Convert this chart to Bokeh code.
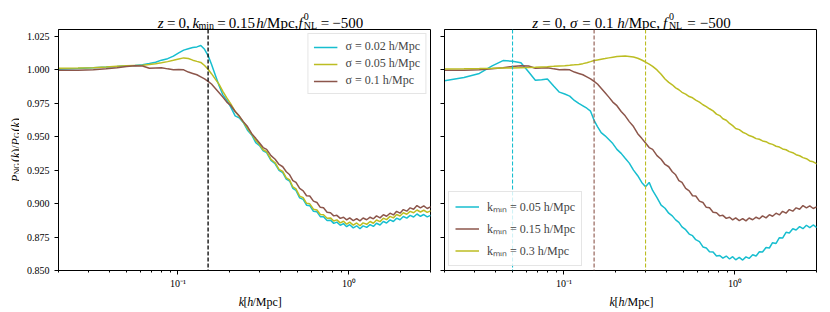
import math
from bokeh.plotting import figure
from bokeh.layouts import row, column
from bokeh.models import (Span, Label, Legend, LegendItem, FixedTicker,
                          PrintfTickFormatter, Range1d)
from bokeh.embed import file_html
from bokeh.resources import INLINE

# ---------------- data ----------------
k = [0.020, 0.026, 0.032, 0.038, 0.044, 0.050, 0.056, 0.062, 0.068, 0.074,
     0.080, 0.087, 0.094, 0.101, 0.108, 0.115, 0.122, 0.129, 0.136, 0.143,
     0.150, 0.157, 0.165, 0.174, 0.183, 0.193, 0.204, 0.216, 0.228, 0.241,
     0.255, 0.270, 0.285, 0.300, 0.315, 0.33, 0.35, 0.37, 0.39, 0.41,
     0.43, 0.45, 0.47, 0.49, 0.515, 0.54, 0.565, 0.59, 0.62, 0.65,
     0.68, 0.71, 0.745, 0.78, 0.815, 0.85, 0.89, 0.93, 0.97, 1.01,
     1.06, 1.11, 1.16, 1.21, 1.27, 1.33, 1.39, 1.45, 1.52, 1.59,
     1.66, 1.74, 1.82, 1.90, 1.99, 2.08, 2.18, 2.28, 2.39, 2.50,
     2.62, 2.74, 2.87, 3.00, 3.10]

# left panel: k_min = 0.15 h/Mpc, varying sigma
ratio_sigma_002 = [
    1.0004, 1.0009, 1.0014, 1.0019, 1.0024, 1.0029, 1.0031, 1.0036, 1.0046, 1.0056,
    1.0071, 1.0082, 1.0101, 1.0126, 1.0146, 1.0156, 1.0165, 1.0170, 1.0180, 1.0152,
    1.0105, 1.0040, 0.9962, 0.9880, 0.9812, 0.9772, 0.9718, 0.9655, 0.9640, 0.9606,
    0.9548, 0.9512, 0.9455, 0.9433, 0.9394, 0.9381, 0.9322, 0.9297, 0.9248, 0.9231,
    0.9183, 0.9168, 0.9113, 0.9098, 0.9042, 0.9031, 0.8988, 0.8984, 0.8942, 0.8938,
    0.8902, 0.8901, 0.8873, 0.8876, 0.8852, 0.8861, 0.8838, 0.8850, 0.8827, 0.8842,
    0.8818, 0.8834, 0.8812, 0.8833, 0.8822, 0.8843, 0.8829, 0.8853, 0.8840, 0.8866,
    0.8855, 0.8878, 0.8866, 0.8891, 0.8879, 0.8903, 0.8891, 0.8912, 0.8900, 0.8922,
    0.8905, 0.8918, 0.8901, 0.8912, 0.8898]
ratio_sigma_005 = [
    1.0010, 1.0012, 1.0015, 1.0020, 1.0025, 1.0029, 1.0031, 1.0033, 1.0038, 1.0045,
    1.0052, 1.0060, 1.0070, 1.0080, 1.0088, 1.0083, 1.0071, 1.0062, 1.0054, 1.0031,
    1.0003, 0.9970, 0.9931, 0.9890, 0.9838, 0.9789, 0.9742, 0.9688, 0.9652, 0.9608,
    0.9562, 0.9518, 0.9472, 0.9441, 0.9402, 0.9388, 0.9330, 0.9305, 0.9255, 0.9240,
    0.9192, 0.9176, 0.9124, 0.9109, 0.9055, 0.9044, 0.9002, 0.8998, 0.8958, 0.8952,
    0.8918, 0.8916, 0.8890, 0.8893, 0.8870, 0.8878, 0.8856, 0.8868, 0.8846, 0.8861,
    0.8839, 0.8855, 0.8834, 0.8856, 0.8845, 0.8866, 0.8853, 0.8877, 0.8865, 0.8891,
    0.8880, 0.8904, 0.8893, 0.8918, 0.8907, 0.8931, 0.8920, 0.8942, 0.8931, 0.8952,
    0.8937, 0.8950, 0.8934, 0.8945, 0.8932]
# sigma = 0.1 h/Mpc, k_min = 0.15 h/Mpc (in both panels)
ratio_sigma_01_kmin_015 = [
    0.9995, 0.9996, 0.9999, 1.0007, 1.0015, 1.0024, 1.0030, 1.0028, 1.0011, 1.0013,
    1.0015, 1.0006, 1.0000, 1.0001, 0.9999, 0.9982, 0.9972, 0.9962, 0.9946, 0.9931,
    0.9913, 0.9893, 0.9862, 0.9828, 0.9795, 0.9758, 0.9731, 0.9688, 0.9655, 0.9612,
    0.9575, 0.9522, 0.9487, 0.9452, 0.9418, 0.9405, 0.9358, 0.9331, 0.9292, 0.9275,
    0.9238, 0.9215, 0.9172, 0.9158, 0.9113, 0.9095, 0.9058, 0.9056, 0.9018, 0.9008,
    0.8972, 0.8968, 0.8935, 0.8931, 0.8908, 0.8912, 0.8889, 0.8898, 0.8878, 0.8893,
    0.8872, 0.8888, 0.8871, 0.8892, 0.8879, 0.8898, 0.8886, 0.8908, 0.8893, 0.8917,
    0.8905, 0.8928, 0.8915, 0.8942, 0.8928, 0.8955, 0.8943, 0.8968, 0.8958, 0.8985,
    0.8968, 0.8982, 0.8963, 0.8975, 0.8962]
# right panel: sigma = 0.1 h/Mpc, varying k_min
ratio_kmin_005 = [
    0.9918, 0.9942, 0.9972, 1.0028, 1.0068, 1.0063, 1.0052, 0.9985, 0.9921, 0.9925,
    0.9931, 0.9878, 0.9832, 0.9818, 0.9802, 0.9770, 0.9748, 0.9730, 0.9712, 0.9690,
    0.9622, 0.9575, 0.9530, 0.9506, 0.9478, 0.9448, 0.9405, 0.9375, 0.9338, 0.9302,
    0.9250, 0.9208, 0.9158, 0.9126, 0.9158, 0.9098, 0.9045, 0.8988, 0.8965, 0.8928,
    0.8908, 0.8878, 0.8859, 0.8826, 0.8805, 0.8772, 0.8760, 0.8730, 0.8716, 0.8676,
    0.8668, 0.8640, 0.8638, 0.8608, 0.8612, 0.8592, 0.8608, 0.8586, 0.8603, 0.8580,
    0.8598, 0.8578, 0.8602, 0.8590, 0.8618, 0.8608, 0.8640, 0.8638, 0.8672, 0.8668,
    0.8708, 0.8702, 0.8745, 0.8742, 0.8785, 0.8780, 0.8812, 0.8802, 0.8828, 0.8812,
    0.8838, 0.8820, 0.8840, 0.8822, 0.8838]
ratio_kmin_03 = [
    1.0005, 1.0006, 1.0008, 1.0010, 1.0012, 1.0013, 1.0015, 1.0016, 1.0018, 1.0020,
    1.0022, 1.0025, 1.0028, 1.0030, 1.0033, 1.0036, 1.0039, 1.0045, 1.0052, 1.0060,
    1.0068, 1.0073, 1.0078, 1.0083, 1.0088, 1.0093, 1.0098, 1.0101, 1.0102, 1.0099,
    1.0094, 1.0085, 1.0072, 1.0057, 1.0042, 1.0025, 0.9998, 0.9965, 0.9930, 0.9905,
    0.9887, 0.9864, 0.9850, 0.9831, 0.9817, 0.9799, 0.9790, 0.9773, 0.9757, 0.9738,
    0.9724, 0.9708, 0.9692, 0.9668, 0.9657, 0.9633, 0.9622, 0.9598, 0.9582, 0.9561,
    0.9552, 0.9533, 0.9522, 0.9508, 0.9499, 0.9485, 0.9480, 0.9468, 0.9462, 0.9448,
    0.9442, 0.9428, 0.9422, 0.9408, 0.9402, 0.9388, 0.9380, 0.9365, 0.9357, 0.9343,
    0.9335, 0.9318, 0.9312, 0.9298, 0.9296]

kmin_left = 0.15
kmin_values = [0.05, 0.15, 0.3]

sigma_labels = ["σ = 0.02 h/Mpc", "σ = 0.05 h/Mpc", "σ = 0.1 h/Mpc"]
kmin_labels = ["kₘᵢₙ = 0.05 h/Mpc", "kₘᵢₙ = 0.15 h/Mpc", "kₘᵢₙ = 0.3 h/Mpc"]

x_major = [0.1, 1.0]
x_major_labels = {0.1: "10⁻¹", 1.0: "10⁰"}
x_minor = [0.02, 0.03, 0.04, 0.05, 0.06, 0.07, 0.08, 0.09,
           0.2, 0.3, 0.4, 0.5, 0.6, 0.7, 0.8, 0.9, 2.0, 3.0]
y_ticks = [0.85, 0.875, 0.9, 0.925, 0.95, 0.975, 1.0, 1.025]

# ---------------- styling ----------------
CYAN, OLIVE, BROWN = "#17becf", "#bcbd22", "#8c564b"
FONT = "Liberation Serif"
FW, FH = 372, 241
XLO, XHI = 0.02, 3.0
YLO, YHI = 0.85, 1.03
SPACE_EM = 0.30

# Times / Liberation Serif advance widths (em)
W_REG = {",": .25, ".": .25, "/": .278, "=": .564, "−": .564,
         "M": .889, "p": .5, "c": .444, "m": .778, "i": .278, "n": .5, "N": .722,
         "L": .611, "G": .722, "(": .333, ")": .333, "[": .333, "]": .333, "σ": .55}
W_IT = {"z": .389, "k": .444, "h": .5, "f": .278, "P": .611, "σ": .55}


def width(s, italic, size):
    tbl = W_IT if italic else W_REG
    total = 0.0
    for c in s:
        if c == " ":
            total += SPACE_EM
        else:
            total += tbl.get(c, W_REG.get(c, .5))
    return total * size


def strip(w, h):
    s = figure(width=w, height=h, x_range=Range1d(0, w), y_range=Range1d(0, h),
               min_border=0, x_axis_location=None, y_axis_location=None,
               toolbar_location=None, output_backend="svg",
               background_fill_color="white", border_fill_color="white")
    s.outline_line_color = None
    s.xgrid.visible = False
    s.ygrid.visible = False
    return s


def math_text(p, pieces, center, base, size, vertical=False):
    small = round(size * 0.7)
    advances = []
    for text, it, kind in pieces:
        sz = size if kind == "n" else small
        w = width(text, it, sz)
        if kind == "sup0":
            w = 0.0
        if kind == "sub":
            w += 0.08 * size
        if it and text == "f":
            w += 0.12 * size
        advances.append(w)
    total = sum(advances)
    pos = center - total / 2
    for (text, it, kind), adv in zip(pieces, advances):
        sz = size if kind == "n" else small
        shift = {"n": 0.0, "sub": -0.18 * size, "sup0": 0.42 * size}[kind]
        # place each word separately so that spaces are controlled here
        cur = pos
        for i, word in enumerate(text.split(" ")):
            if i > 0:
                cur += SPACE_EM * sz
            if word:
                if vertical:
                    x, y, ang = base - shift, cur, math.pi / 2
                else:
                    x, y, ang = cur, base + shift, 0.0
                p.add_layout(Label(x=x, y=y, text=word, angle=ang, text_font=FONT,
                                   text_font_size=f"{sz}px",
                                   text_font_style="italic" if it else "normal",
                                   text_color="black", text_align="left",
                                   text_baseline="alphabetic"))
                cur += width(word, it, sz)
        pos += adv


def make_fig(min_left, min_right, show_ylabels):
    p = figure(x_axis_type="log", x_range=Range1d(XLO, XHI), y_range=Range1d(YLO, YHI),
               frame_width=FW, frame_height=FH, min_border_left=min_left,
               min_border_right=min_right, min_border_top=0, min_border_bottom=22,
               output_backend="svg", toolbar_location=None,
               background_fill_color="white", border_fill_color="white")
    p.xgrid.visible = False
    p.ygrid.visible = False
    p.outline_line_color = "black"
    p.outline_line_alpha = 1.0
    p.outline_line_width = 1
    for ax in (p.xaxis[0], p.yaxis[0]):
        ax.axis_line_color = "black"
        ax.axis_line_width = 1
        ax.major_tick_line_color = "black"
        ax.minor_tick_line_color = "black"
        ax.major_tick_in = 0
        ax.major_tick_out = 4
        ax.minor_tick_in = 0
        ax.minor_tick_out = 2
        ax.major_label_text_font = FONT
        ax.major_label_text_font_size = "10px"
        ax.major_label_text_color = "black"
    p.xaxis.ticker = FixedTicker(ticks=x_major, minor_ticks=x_minor)
    p.xaxis.major_label_overrides = x_major_labels
    p.xaxis.major_label_standoff = 3
    p.yaxis.ticker = FixedTicker(ticks=y_ticks, minor_ticks=[])
    if show_ylabels:
        p.yaxis.formatter = PrintfTickFormatter(format="%.3f")
        p.yaxis.major_label_standoff = 5
    else:
        p.yaxis.formatter = PrintfTickFormatter(format="")
        p.yaxis.major_label_standoff = 0
    return p


# ---------------- left panel ----------------
YW, LB = 19, 39
p1 = make_fig(LB, 7, True)
p1.add_layout(Span(location=kmin_left, dimension="height", line_color="black",
                   line_dash="4 2", line_width=1.3))
r1 = p1.line(k, ratio_sigma_002, line_color=CYAN, line_width=1.5)
r2 = p1.line(k, ratio_sigma_005, line_color=OLIVE, line_width=1.5)
r3 = p1.line(k, ratio_sigma_01_kmin_015, line_color=BROWN, line_width=1.5)
leg1 = Legend(items=[LegendItem(label=l, renderers=[r]) for l, r in zip(sigma_labels, [r1, r2, r3])],
              location="top_right", margin=4, padding=5, spacing=2,
              glyph_width=24, glyph_height=12, label_height=12, label_standoff=8,
              label_text_font=FONT, label_text_font_size="12px",
              border_line_color="#cccccc", border_line_width=1,
              background_fill_color="white", background_fill_alpha=0.8)
p1.add_layout(leg1)

# ---------------- right panel ----------------
p2 = make_fig(7, 6, False)
for km, col in zip(kmin_values, [CYAN, BROWN, OLIVE]):
    p2.add_layout(Span(location=km, dimension="height", line_color=col,
                       line_dash="4 2", line_width=1.1))
s1 = p2.line(k, ratio_kmin_005, line_color=CYAN, line_width=1.5)
s2 = p2.line(k, ratio_sigma_01_kmin_015, line_color=BROWN, line_width=1.5)
s3 = p2.line(k, ratio_kmin_03, line_color=OLIVE, line_width=1.5)
leg2 = Legend(items=[LegendItem(label=l, renderers=[r]) for l, r in zip(kmin_labels, [s1, s2, s3])],
              location="bottom_left", margin=4, padding=6, spacing=5,
              glyph_width=24, glyph_height=13, label_height=13, label_standoff=8,
              label_text_font=FONT, label_text_font_size="12px",
              border_line_color="#cccccc", border_line_width=1,
              background_fill_color="white", background_fill_alpha=0.8)
p2.add_layout(leg2)

# ---------------- titles and axis labels (in text strips) ----------------
title_left = [("z", 1, "n"), (" = 0, ", 0, "n"), ("k", 1, "n"), ("min", 0, "sub"),
              (" = 0.15 ", 0, "n"), ("h", 1, "n"), ("/Mpc, ", 0, "n"), ("f", 1, "n"),
              ("0", 0, "sup0"), ("NL", 0, "sub"), (" = −500", 0, "n")]
title_right = [("z", 1, "n"), (" = 0, ", 0, "n"), ("σ", 1, "n"), (" = 0.1 ", 0, "n"),
               ("h", 1, "n"), ("/Mpc, ", 0, "n"), ("f", 1, "n"),
               ("0", 0, "sup0"), ("NL", 0, "sub"), (" = −500", 0, "n")]
xlabel = [("k", 1, "n"), ("[", 0, "n"), ("h", 1, "n"), ("/Mpc]", 0, "n")]
ylabel = [("P", 1, "n"), ("NG", 0, "sub"), ("(", 0, "n"), ("k", 1, "n"), (")/", 0, "n"),
          ("P", 1, "n"), ("G", 0, "sub"), ("(", 0, "n"), ("k", 1, "n"), (")", 0, "n")]

W1 = LB + FW + 7
W2 = 7 + FW + 6
TH, XH = 29, 19
H = TH + FH + 22 + XH

t1 = strip(W1, TH)
t2 = strip(W2, TH)
x1 = strip(W1, XH)
x2 = strip(W2, XH)
yl = strip(YW, H)

math_text(t1, title_left, LB + FW / 2, 7, 15)
math_text(t2, title_right, 7 + FW / 2, 7, 15)
math_text(x1, xlabel, LB + FW / 2, 9.5, 12)
math_text(x2, xlabel, 7 + FW / 2, 9.5, 12)
math_text(yl, ylabel, H - (TH + FH / 2), 15, 12, vertical=True)

layout = row(yl, column(t1, p1, x1), column(t2, p2, x2))
open("out.html", "w").write(file_html(layout, INLINE))
